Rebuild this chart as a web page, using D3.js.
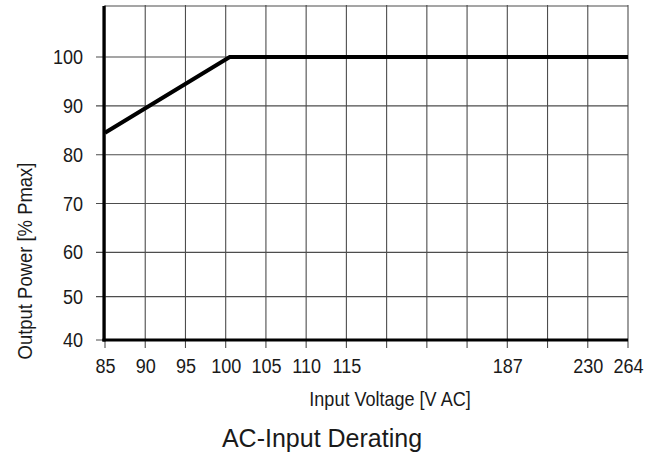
<!DOCTYPE html>
<html>
<head>
<meta charset="utf-8">
<script src="https://cdn.jsdelivr.net/npm/d3@7"></script>
<style>
  html, body { margin: 0; padding: 0; background: #fff; }
  svg { display: block; }
  text { fill: #1a1a1a; font-family: "Liberation Sans", Arial, sans-serif; }
</style>
</head>
<body>
<svg id="chart" width="662" height="456"></svg>
<script>
// ---- data ----
const xGridValues = [85, 90, 95, 100, 105, 110, 115, 133, 151, 169, 187, 208.5, 230, 264];
const xTickLabels = ["85", "90", "95", "100", "105", "110", "115", "", "", "", "187", "", "230", "264"];
const yTickValues = [40, 50, 60, 70, 80, 90, 100];
const yTop = 110.5;
const voltage = [85, 100.5, 264];
const outputPower = [84.5, 100, 100];
const xAxisTitle = "Input Voltage [V AC]";
const yAxisTitle = "Output Power [% Pmax]";
const chartTitle = "AC-Input Derating";

// ---- layout ----
const svg = d3.select("#chart");
const plotLeft = 105, plotRight = 628, plotBottom = 340, plotTop = 6;
const step = (plotRight - plotLeft) / 13;
const condense = 0.88; // horizontal squeeze to mimic the condensed font

// piecewise-linear scales matching the original's uneven axes
const x = d3.scaleLinear()
  .domain([85, 115, 187, 230, 264])
  .range([plotLeft, plotLeft + 6 * step, plotLeft + 10 * step, plotLeft + 12 * step, plotLeft + 13 * step]);
const y = d3.scaleLinear()
  .domain([40, 50, 60, 100, yTop])
  .range([plotBottom, 296.6, 252.4, 57, plotTop]);

const gridColor = "#4d4d4d";

// vertical grid lines (extend slightly below the axis as ticks)
svg.append("g").selectAll("line").data(xGridValues).join("line")
  .attr("x1", d => x(d)).attr("x2", d => x(d))
  .attr("y1", y(yTop) - 1).attr("y2", plotBottom + 8)
  .attr("stroke", gridColor).attr("stroke-width", 1.1);

// horizontal grid lines (extend slightly left of the axis as ticks)
svg.append("g").selectAll("line").data(yTickValues.concat([yTop])).join("line")
  .attr("x1", d => d === yTop ? x(85) : x(85) - 9).attr("x2", x(264))
  .attr("y1", d => y(d)).attr("y2", d => y(d))
  .attr("stroke", gridColor).attr("stroke-width", 1.1);

// x axis labels
const xAxis = d3.axisBottom(x).tickValues(xGridValues).tickSize(0).tickPadding(18)
  .tickFormat((d, i) => xTickLabels[i]);
const gx = svg.append("g").attr("transform", `translate(0,${plotBottom})`).call(xAxis);
gx.select(".domain").remove();
gx.attr("font-family", null).attr("font-size", null);
gx.selectAll("text")
  .style("font-family", "'Liberation Sans', Arial, sans-serif")
  .style("font-size", "20.5px").attr("fill", "#1a1a1a")
  .attr("transform", `scale(${condense},1)`);

// y axis labels
const yPad = 21;
const yAxis = d3.axisLeft(y).tickValues(yTickValues).tickSize(0).tickPadding(yPad);
const gy = svg.append("g").attr("transform", `translate(${x(85) - 1},0)`).call(yAxis);
gy.select(".domain").remove();
gy.attr("font-family", null).attr("font-size", null);
gy.selectAll(".tick").each(function () {
  const t = d3.select(this).select("text");
  t.style("font-family", "'Liberation Sans', Arial, sans-serif")
    .style("font-size", "20.5px").attr("fill", "#1a1a1a")
    .attr("x", -yPad / condense)
    .attr("transform", `scale(${condense},1)`);
});

// thick axes lines
svg.append("line")
  .attr("x1", x(85) - 1).attr("x2", x(85) - 1)
  .attr("y1", y(yTop)).attr("y2", plotBottom + 1.5)
  .attr("stroke", "#000").attr("stroke-width", 3.2);
svg.append("line")
  .attr("x1", x(85) - 2.6).attr("x2", x(264))
  .attr("y1", plotBottom).attr("y2", plotBottom)
  .attr("stroke", "#000").attr("stroke-width", 3.2);

// data line
const pts = voltage.map((v, i) => [v, outputPower[i]]);
svg.append("path")
  .datum(pts)
  .attr("d", d3.line().x(d => x(d[0])).y(d => y(d[1])))
  .attr("fill", "none").attr("stroke", "#000").attr("stroke-width", 4)
  .attr("stroke-linejoin", "miter");

// axis titles
svg.append("g").attr("transform", "translate(390,406)")
  .append("text")
  .attr("transform", `scale(${condense},1)`)
  .attr("text-anchor", "middle")
  .style("font-size", "20.5px")
  .text(xAxisTitle);

svg.append("g").attr("transform", "translate(32,261) rotate(-90)")
  .append("text")
  .attr("transform", `scale(${condense + 0.02},1)`)
  .attr("text-anchor", "middle")
  .style("font-size", "20.5px")
  .text(yAxisTitle);

// chart title
svg.append("text")
  .attr("x", 322).attr("y", 447)
  .attr("text-anchor", "middle")
  .style("font-size", "25px")
  .attr("fill", "#111")
  .text(chartTitle);
</script>
</body>
</html>
